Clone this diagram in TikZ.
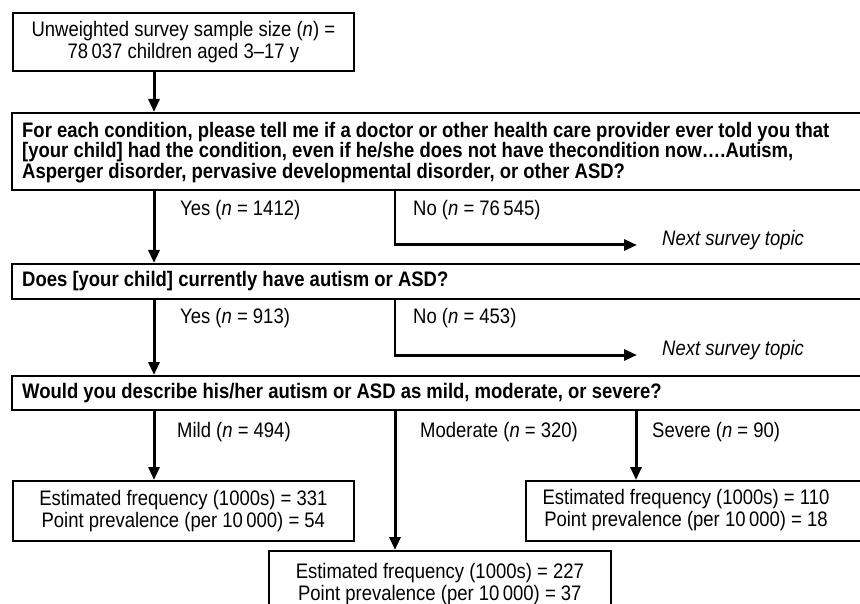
\documentclass[tikz,border=0pt]{standalone}
\usepackage{fontspec}
\setmainfont{Liberation Sans}[FakeStretch=0.88]
\usetikzlibrary{arrows.meta,shadows}
\begin{document}
\begin{tikzpicture}[x=1pt,y=-1pt,
  font=\fontsize{21}{22}\selectfont,
  box/.style={draw=black, line width=1.7pt, fill=white, inner sep=0pt, anchor=north west,
    drop shadow={shadow xshift=1pt, shadow yshift=-1pt, fill=black, opacity=1}},
  txt/.style={inner sep=0pt, align=left, anchor=west, font=\fontsize{21}{20.5}\selectfont\bfseries},
  ctxt/.style={inner sep=0pt, align=center},
  arr/.style={line width=3pt, -{Triangle[length=13pt,width=11pt]}},
  thinline/.style={line width=1.7pt},
  lbl/.style={inner sep=0pt, anchor=west}]
\useasboundingbox (0,0) rectangle (860,604);
\fill[white] (0,0) rectangle (860,604);

% coordinates for the columns
\coordinate (xa) at (154,0);
\coordinate (xb) at (395,0);
\coordinate (xc) at (636,0);

% boxes
\node[box, minimum width=341pt, minimum height=58pt] (top) at (12,12) {};
\node[ctxt] (toptxt) at (top.center) {Unweighted survey sample size (\textit{n}) =\\78\,037 children aged 3–17 y};

\node[box, minimum width=880pt, minimum height=77pt] (q1) at (11,112) {};
\node[txt] (q1txt) at ([xshift=11pt,yshift=-1pt]q1.west) {For each condition, please tell me if a doctor or other health care provider ever told you that\\{}[your child] had the condition, even if he/she does not have thecondition now….Autism,\\{}Asperger disorder, pervasive developmental disorder, or other ASD?};

\node[box, minimum width=880pt, minimum height=35pt] (q2) at (11,263) {};
\node[txt] (q2txt) at ([xshift=11pt]q2.west) {Does {[}your child{]} currently have autism or ASD?};

\node[box, minimum width=880pt, minimum height=34pt] (q3) at (11,375) {};
\node[txt] (q3txt) at ([xshift=11pt]q3.west) {Would you describe his/her autism or ASD as mild, moderate, or severe?};

\node[box, minimum width=341pt, minimum height=60pt] (r1) at (12,480) {};
\node[ctxt] (r1txt) at (r1.center) {Estimated frequency (1000s) = 331\\Point prevalence (per 10\,000) = 54};

\node[box, minimum width=350pt, minimum height=60pt] (r3) at (525,480) {};
\node[ctxt] (r3txt) at (686,510) {Estimated frequency (1000s) = 110\\Point prevalence (per 10\,000) = 18};

\node[box, minimum width=342pt, minimum height=64pt] (r2) at (268,550) {};
\node[ctxt] (r2txt) at ([yshift=-1pt]r2.center) {Estimated frequency (1000s) = 227\\Point prevalence (per 10\,000) = 37};

% next survey topic texts
\node[lbl, font=\fontsize{21}{22}\selectfont\itshape] (ns1) at (662,240) {Next survey topic};
\node[lbl, font=\fontsize{21}{22}\selectfont\itshape] (ns2) at (662,350) {Next survey topic};
\coordinate (c1) at (395,245);
\coordinate (c2) at (395,355);

% connectors
\draw[arr] (top.south -| xa) -- (q1.north -| xa);
\draw[arr] (q1.south -| xa) -- (q2.north -| xa);
\draw[thinline] (q1.south -| xb) -- (c1);
\draw[arr, shorten >=25pt] ([xshift=-0.85pt]c1) -- (c1 -| ns1.west);
\draw[arr] (q2.south -| xa) -- (q3.north -| xa);
\draw[thinline] (q2.south -| xb) -- (c2);
\draw[arr, shorten >=25pt] ([xshift=-0.85pt]c2) -- (c2 -| ns2.west);
\draw[arr] (q3.south -| xa) -- (r1.north -| xa);
\draw[arr] (q3.south -| xb) -- (r2.north -| xb);
\draw[arr] (q3.south -| xc) -- (r3.north -| xc);

% labels
\node[lbl] (l1) at (180,210) {Yes (\textit{n} = 1412)};
\node[lbl] (l2) at (413,210) {No (\textit{n} = 76\,545)};
\node[lbl] (l3) at (180,318) {Yes (\textit{n} = 913)};
\node[lbl] (l4) at (413,318) {No (\textit{n} = 453)};
\node[lbl] (l5) at (177,432) {Mild (\textit{n} = 494)};
\node[lbl] (l6) at (420,432) {Moderate (\textit{n} = 320)};
\node[lbl] (l7) at (652,432) {Severe (\textit{n} = 90)};
\end{tikzpicture}
\end{document}
